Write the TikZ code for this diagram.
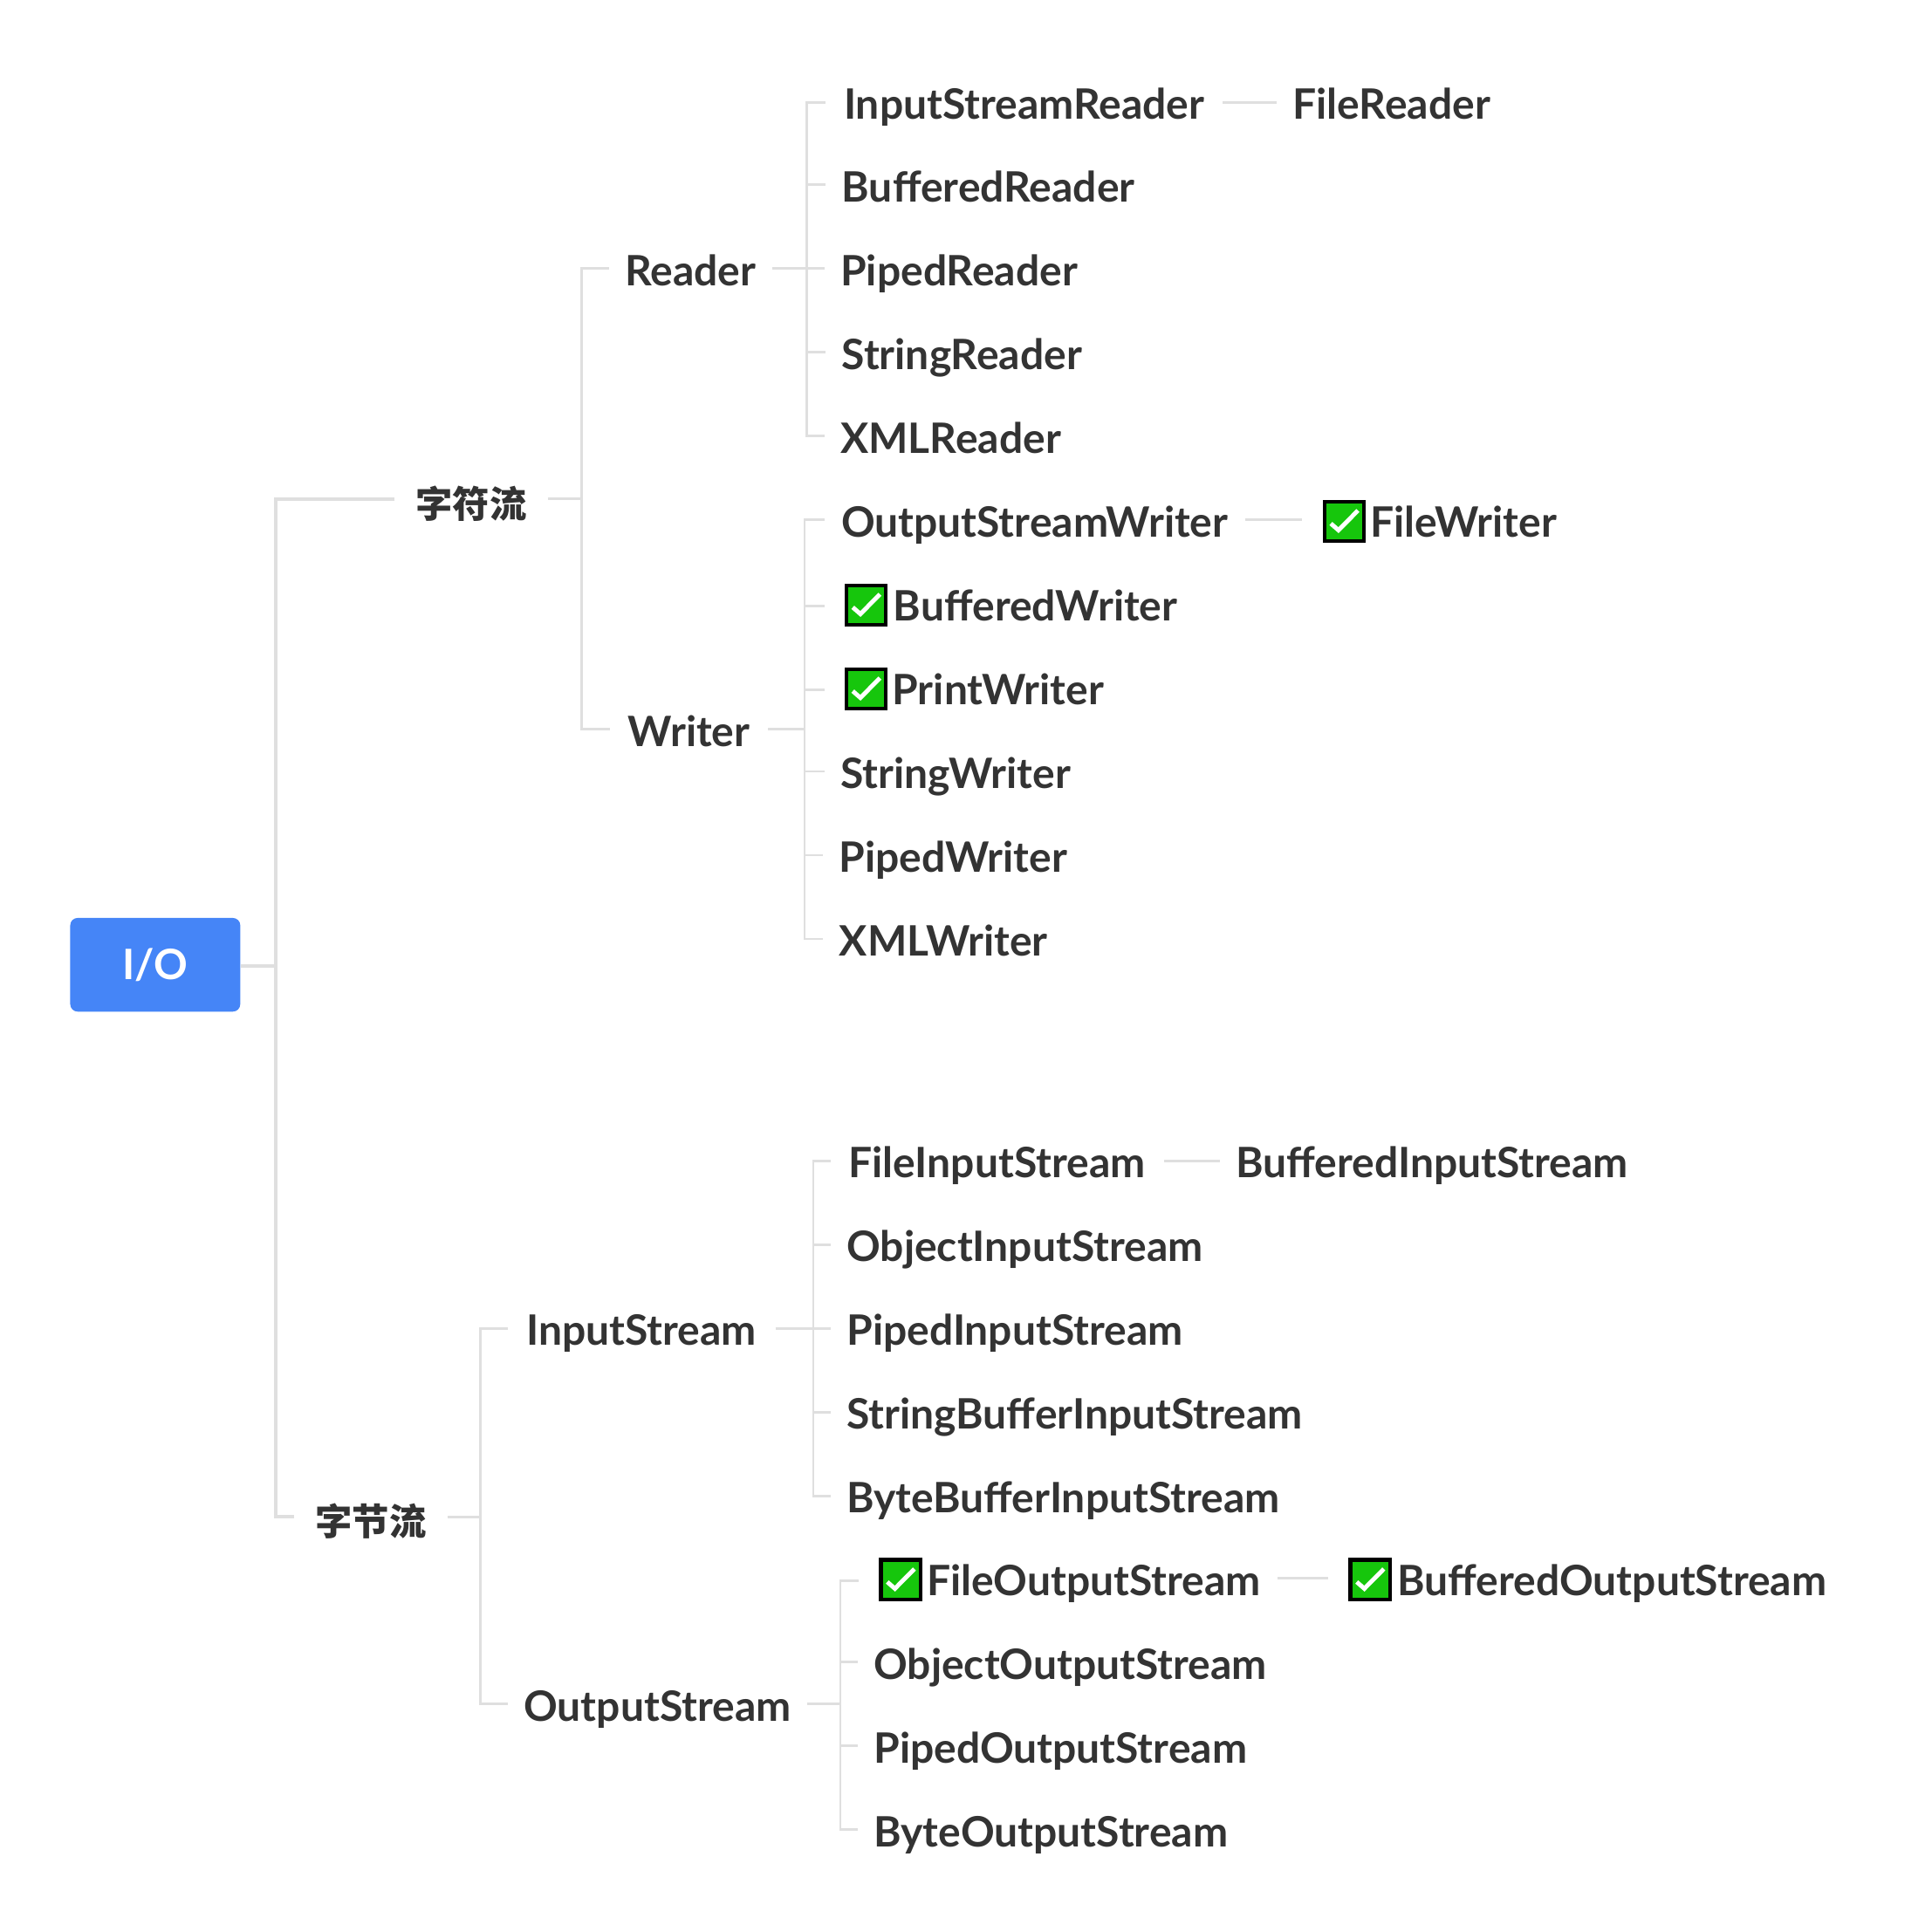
\documentclass[tikz,border=0pt]{standalone}
\usepackage{fontspec}
\setmainfont{Lato}
\newfontfamily\cjkfont{Noto Sans CJK SC}
\definecolor{ink}{HTML}{333333}
\definecolor{wire}{HTML}{DFDFDF}
\definecolor{rootblue}{HTML}{4585F7}
\definecolor{tickgreen}{HTML}{16C60C}
\tikzset{
  leaf/.style = {anchor = west, inner xsep = 13pt, inner ysep = 0pt, text height = 36pt, text depth = 8pt, text = ink, font = \fontsize{34}{40}\selectfont\bfseries},
  topic/.style = {inner xsep = 17pt, inner ysep = 0pt, text height = 35pt, text depth = 5pt, text = ink, font = \fontsize{30}{36}\cjkfont\bfseries},
  rootbox/.style = {fill = rootblue, rounded corners = 6pt, minimum width = 138pt, minimum height = 76pt, text = white, font = \fontsize{34}{40}\selectfont\bfseries},
  tickbox/.style = {draw = black, line width = 3pt, fill = tickgreen, inner sep = 0pt, minimum size = 32pt, outer xsep = 18pt},
  tickline/.style = {draw = white, line width = 3.5pt},
  trunk/.style = {draw = wire, line width = 3pt},
  branch/.style = {draw = wire, line width = 2pt}
}
\newcommand{\tickmark}[1]{\draw [tickline] ([shift = {(-10.9,1.9)}]#1.center) -- ++(6.2,5.4) -- ++(15.8,-16);}

\begin{document}
\begin{tikzpicture}[x = 1pt, y = -1pt]
\useasboundingbox (0,0) rectangle (1568,1568);

\node [rootbox] (io) at (126,783) {I/O};
\node [topic] (chars) at (382.5,405) {字符流};
\node [topic] (bytes) at (301,1231) {字节流};

\node [leaf, minimum width = 131pt] (reader) at (494,218) {Reader};
\node [leaf, minimum width = 128pt] (writer) at (495,592) {Writer};
\node [leaf, minimum width = 217pt] (instream) at (412,1078) {InputStream};
\node [leaf, minimum width = 239pt] (outstream) at (412,1383) {OutputStream};

\node [leaf, minimum width = 322pt] (isr) at (670,83) {InputStreamReader};
\node [leaf] (fr) at (1036,83) {FileReader};
\node [leaf] (br) at (670,150) {BufferedReader};
\node [leaf] (pr) at (669,218) {PipedReader};
\node [leaf] (sr) at (670,286) {StringReader};
\node [leaf] (xr) at (669,354) {XMLReader};

\node [leaf, minimum width = 341pt] (osw) at (669,422) {OutputStreamWriter};
\node [tickbox] (tfw) at (1091,423) {};
\node [leaf] (fw) at (1099,422) {FileWriter};
\node [tickbox] (tbw) at (703,491) {};
\node [leaf] (bw) at (712,490) {BufferedWriter};
\node [tickbox] (tpw) at (703,559) {};
\node [leaf] (pw) at (711,558) {PrintWriter};
\node [leaf] (sw) at (669,626) {StringWriter};
\node [leaf] (piw) at (668,694) {PipedWriter};
\node [leaf] (xw) at (668,762) {XMLWriter};

\node [leaf, minimum width = 270pt] (fis) at (674,942) {FileInputStream};
\node [leaf] (bis) at (990,942) {BufferedInputStream};
\node [leaf] (ois) at (674,1010) {ObjectInputStream};
\node [leaf] (pis) at (674,1078) {PipedInputStream};
\node [leaf] (sbis) at (674,1146) {StringBufferInputStream};
\node [leaf] (bbis) at (674,1214) {ByteBufferInputStream};

\node [tickbox] (tfos) at (731,1282) {};
\node [leaf, minimum width = 294pt] (fos) at (739,1281) {FileOutputStream};
\node [tickbox] (tbos) at (1112,1282) {};
\node [leaf] (bos) at (1121,1281) {BufferedOutputStream};
\node [leaf] (oos) at (696,1349) {ObjectOutputStream};
\node [leaf] (pos) at (696,1417) {PipedOutputStream};
\node [leaf] (byos) at (696,1485) {ByteOutputStream};

\tickmark{tfw}
\tickmark{tbw}
\tickmark{tpw}
\tickmark{tfos}
\tickmark{tbos}

% junctions
\coordinate (jio) at (224,784);
\coordinate (jchars) at (472,405);
\coordinate (jbytes) at (390,1231);
\coordinate (jreader) at (655,218);
\coordinate (jwriter) at (653,592);
\coordinate (jin) at (660,1078);
\coordinate (jout) at (682,1383);

\draw [trunk] (io.east |- jio) -- (jio);
\draw [trunk] (chars.west) -| (jio);
\draw [trunk] (bytes.west) -| (jio);

\draw [branch] (chars.east) -- (jchars);
\draw [branch] (jchars) |- (reader.west);
\draw [branch] (jchars) |- (writer.west);
\draw [branch] (bytes.east) -- (jbytes);
\draw [branch] (jbytes) |- (instream.west);
\draw [branch] (jbytes) |- (outstream.west);

\draw [branch] (reader.east) -- (jreader);
\draw [branch] (jreader) |- (isr.west);
\draw [branch] (jreader) |- (br.west);
\draw [branch] (jreader) |- (pr.west);
\draw [branch] (jreader) |- (sr.west);
\draw [branch] (jreader) |- (xr.west);
\draw [branch] (isr.east) -- (fr.west);

\draw [branch] (writer.east) -- (jwriter);
\draw [branch] (jwriter) |- (osw.west);
\draw [branch] (jwriter) |- ([yshift = -1pt]tbw.west);
\draw [branch] (jwriter) |- ([yshift = -1pt]tpw.west);
\draw [branch] (jwriter) |- (sw.west);
\draw [branch] (jwriter) |- (piw.west);
\draw [branch] (jwriter) |- (xw.west);
\draw [branch] (osw.east) -- (osw.east -| tfw.west);

\draw [branch] (instream.east) -- (jin);
\draw [branch] (jin) |- (fis.west);
\draw [branch] (jin) |- (ois.west);
\draw [branch] (jin) |- (pis.west);
\draw [branch] (jin) |- (sbis.west);
\draw [branch] (jin) |- (bbis.west);
\draw [branch] (fis.east) -- (bis.west);

\draw [branch] (outstream.east) -- (jout);
\draw [branch] (jout) |- ([yshift = -1pt]tfos.west);
\draw [branch] (jout) |- (oos.west);
\draw [branch] (jout) |- (pos.west);
\draw [branch] (jout) |- (byos.west);
\draw [branch] (fos.east) -- (fos.east -| tbos.west);
\end{tikzpicture}
\end{document}
